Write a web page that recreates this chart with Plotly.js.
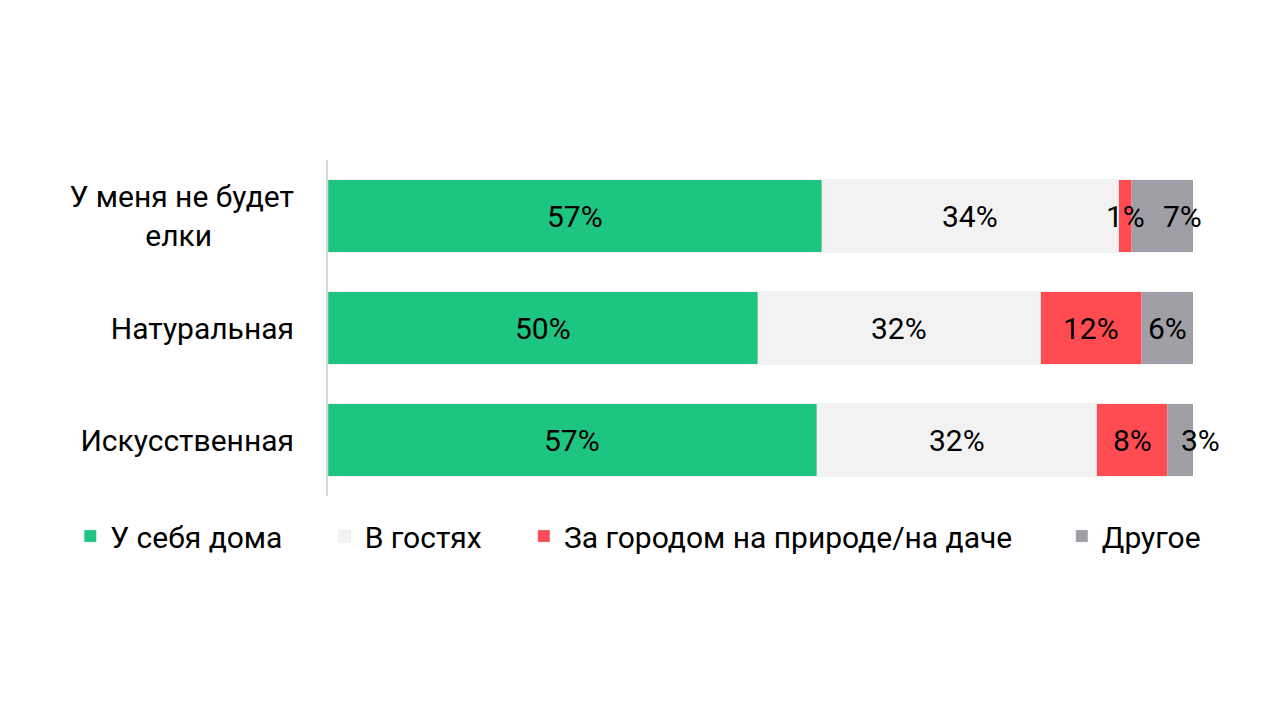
<!DOCTYPE html>
<html>
<head>
<meta charset="utf-8">
<script src="https://cdn.plot.ly/plotly-3.0.1.min.js"></script>
<style>
html,body{margin:0;padding:0;background:#fff;}
#chart{width:1280px;height:720px;}
</style>
</head>
<body>
<div id="chart"></div>
<script>
var categories = ['У меня не будет<br>елки' + '\u00A0'.repeat(11), 'Натуральная', 'Искусственная'];
var seriesNames = ['У себя дома', 'В гостях', 'За городом на природе/на даче', 'Другое'];
// segment shares as measured on the picture
var home = [57.1, 49.7, 56.5];
var guests = [34.3, 32.7, 32.4];
var country = [1.5, 11.7, 8.1];
var other = [7.1, 5.9, 3.0];
// printed labels
var homeLabels = ['57%', '50%', '57%'];
var guestsLabels = ['34%', '32%', '32%'];
var countryLabels = ['1%', '12%', '8%'];
var otherLabels = ['7%', '6%', '3%'];

var colors = ['#1EC580', '#F2F2F2', '#FF4C52', '#A09FA5'];
var series = [home, guests, country, other];
var labels = [homeLabels, guestsLabels, countryLabels, otherLabels];
var legendPad = [5, 5, 6, 0];

var traces = series.map(function(vals, i){
  return {
    type: 'bar',
    orientation: 'h',
    name: seriesNames[i] + '\u00A0'.repeat(legendPad[i]),
    y: categories,
    x: vals,
    marker: {color: colors[i], line: {color: 'rgba(210,210,210,0.6)', width: 0.5}},
    hoverinfo: 'none'
  };
});

// labels centred on each segment
var shifts = {'0-3': 20, '2-3': 20};
var annotations = [];
categories.forEach(function(cat, r){
  var total = 0;
  series.forEach(function(s){ total += s[r]; });
  var acc = 0;
  series.forEach(function(s, i){
    var v = s[r] / total * 100;
    annotations.push({
      x: acc + v / 2, y: cat, xref: 'x', yref: 'y',
      text: labels[i][r], showarrow: false,
      xshift: shifts[r + '-' + i] || 0,
      font: {family: 'Roboto', size: 30, color: '#000'}
    });
    acc += v;
  });
});

var layout = {
  width: 1280, height: 720,
  margin: {l: 328, r: 87, t: 160, b: 224},
  barmode: 'stack',
  barnorm: 'percent',
  bargap: 0.35,
  paper_bgcolor: '#fff', plot_bgcolor: '#fff',
  font: {family: 'Roboto', size: 30, color: '#000'},
  xaxis: {range: [0, 100], visible: false, fixedrange: true},
  yaxis: {
    autorange: 'reversed',
    showline: true, linecolor: '#d9d9d9', linewidth: 2,
    showgrid: false, zeroline: false, ticks: '',
    ticklabelstandoff: 26,
    tickfont: {family: 'Roboto', size: 30, color: '#000'}
  },
  showlegend: true,
  legend: {
    orientation: 'h',
    x: -0.298, xanchor: 'left', y: -0.042, yanchor: 'top',
    font: {family: 'Roboto', size: 30, color: '#000'},
    traceorder: 'normal'
  },
  annotations: annotations
};

Plotly.newPlot('chart', traces, layout, {staticPlot: true});
</script>
</body>
</html>
